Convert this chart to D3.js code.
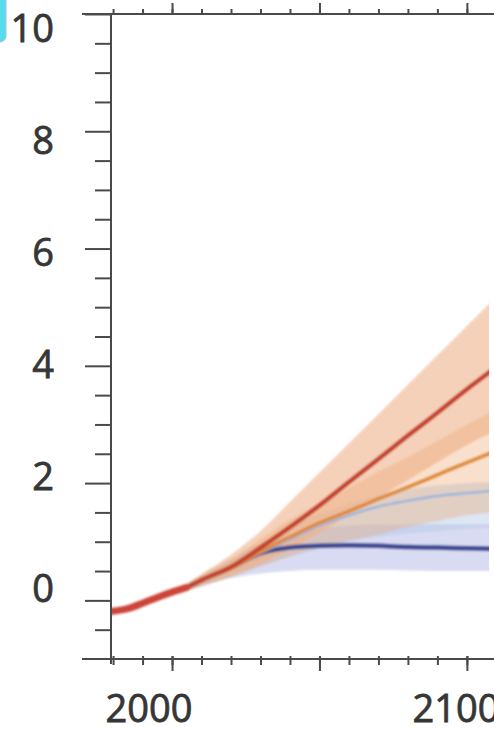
<!DOCTYPE html>
<html lang="en">
<head>
<meta charset="UTF-8">
<title>Temperature projections</title>
<script src="https://cdn.jsdelivr.net/npm/d3@7"></script>
<style>
    body { margin: 0; background: #fff; }
    svg { display: block; }
    .lbl { font-family: "Open Sans", sans-serif; font-size: 38px; fill: #363636; stroke: #363636; stroke-width: 0.8; }
    .axis path, .axis line { stroke: #4a4a4a; stroke-width: 2; }
</style>
</head>
<body>
<div id="chart"></div>
<script>
    // historical run
    var histYears = [1979, 1985, 1990, 1995, 2000, 2005];
    var histMean  = [-0.19, -0.14, -0.05, 0.05, 0.14, 0.22];

    // scenario runs
    var projYears = [2005, 2010, 2020, 2030, 2040, 2050, 2060, 2070, 2080, 2090, 2100, 2110];

    var rcp85Mean = [0.22, 0.35, 0.57, 0.90, 1.25, 1.62, 2.02, 2.41, 2.81, 3.20, 3.60, 3.98];
    var rcp85Low  = [0.16, 0.25, 0.42, 0.62, 0.88, 1.15, 1.45, 1.75, 2.05, 2.35, 2.65, 2.90];
    var rcp85High = [0.28, 0.45, 0.78, 1.18, 1.68, 2.18, 2.68, 3.18, 3.68, 4.18, 4.68, 5.18];

    var rcp60Mean = [0.22, 0.34, 0.55, 0.83, 1.08, 1.32, 1.52, 1.73, 1.93, 2.14, 2.35, 2.55];
    var rcp60Low  = [0.16, 0.24, 0.40, 0.58, 0.75, 0.90, 1.02, 1.12, 1.25, 1.35, 1.45, 1.50];
    var rcp60High = [0.28, 0.44, 0.70, 1.05, 1.38, 1.65, 1.92, 2.20, 2.45, 2.72, 3.00, 3.25];

    var rcp45Mean = [0.22, 0.33, 0.55, 0.81, 1.04, 1.27, 1.45, 1.60, 1.70, 1.78, 1.83, 1.87];
    var rcp45Low  = [0.16, 0.24, 0.40, 0.58, 0.75, 0.88, 1.00, 1.08, 1.14, 1.18, 1.22, 1.24];
    var rcp45High = [0.28, 0.42, 0.68, 0.98, 1.25, 1.48, 1.65, 1.80, 1.90, 1.96, 2.00, 2.02];

    var rcp26Mean = [0.22, 0.34, 0.56, 0.80, 0.90, 0.93, 0.94, 0.93, 0.91, 0.90, 0.89, 0.88];
    var rcp26Low  = [0.16, 0.24, 0.38, 0.46, 0.50, 0.52, 0.52, 0.52, 0.51, 0.50, 0.50, 0.50];
    var rcp26High = [0.28, 0.42, 0.70, 0.98, 1.12, 1.22, 1.28, 1.30, 1.30, 1.30, 1.30, 1.30];

    var yLabels = [0, 2, 4, 6, 8, 10];
    var xLabels = [2000, 2100];

    var W = 494, H = 733;
    var plot = {left: 111, right: 489, top: 14, bottom: 659};

    var x = d3.scaleLinear().domain([1979.3, 2107.5]).range([plot.left, plot.right]);
    var y = d3.scaleLinear().domain([-1, 10]).range([plot.bottom, plot.top]);
    // the printed numbers sit a little off their ticks in the source figure
    var yText = d3.scaleLinear().domain([0, 10]).range([589, 29]);
    var xText = d3.scaleLinear().domain([2000, 2100]).range([149, 456]);

    var svg = d3.select("#chart").append("svg")
        .attr("width", W).attr("height", H);

    var defs = svg.append("defs");
    defs.append("clipPath").attr("id", "clip").append("rect")
        .attr("x", plot.left).attr("y", plot.top)
        .attr("width", plot.right - plot.left).attr("height", plot.bottom - plot.top);
    defs.append("filter").attr("id", "soft")
        .append("feGaussianBlur").attr("stdDeviation", 1.2);

    // little cyan corner of a neighbouring panel
    svg.append("rect").attr("x", -8).attr("y", -8).attr("width", 14).attr("height", 50)
        .attr("rx", 6).attr("fill", "#56dcec").attr("stroke", "#9cc6d8");

    function rows(years, a, b, c) {
        return years.map(function (yr, i) { return {yr: yr, m: a[i], lo: b ? b[i] : null, hi: c ? c[i] : null}; });
    }

    var area = d3.area().curve(d3.curveMonotoneX)
        .x(function (d) { return x(d.yr); })
        .y0(function (d) { return y(d.lo); })
        .y1(function (d) { return y(d.hi); });
    var line = d3.line().curve(d3.curveMonotoneX)
        .x(function (d) { return x(d.yr); })
        .y(function (d) { return y(d.m); });

    var scen = [
        {name: "RCP2.6", d: rows(projYears, rcp26Mean, rcp26Low, rcp26High), band: "#b4b7e6", bo: 0.5, col: "#3a4690", w: 4.5},
        {name: "RCP4.5", d: rows(projYears, rcp45Mean, rcp45Low, rcp45High), band: "#b2c8e6", bo: 0.45, col: "#9ab6da", w: 2.5},
        {name: "RCP8.5", d: rows(projYears, rcp85Mean, rcp85Low, rcp85High), band: "#f0b995", bo: 0.65, col: "#c4402e", w: 4.5},
        {name: "RCP6.0", d: rows(projYears, rcp60Mean, rcp60Low, rcp60High), band: "#eea66c", bo: 0.35, col: "#e0883a", w: 3.5}
    ];
    var lineOrder = ["RCP2.6", "RCP4.5", "RCP6.0", "RCP8.5"];

    var g = svg.append("g").attr("clip-path", "url(#clip)")
        .append("g").attr("filter", "url(#soft)");

    scen.forEach(function (s) {
        g.append("path").datum(s.d).attr("d", area)
            .attr("fill", s.band).attr("fill-opacity", s.bo);
    });

    lineOrder.forEach(function (n) {
        var s = scen.filter(function (c) { return c.name === n; })[0];
        g.append("path").datum(s.d).attr("d", line)
            .attr("fill", "none").attr("stroke", s.col)
            .attr("stroke-width", s.w).attr("stroke-linecap", "round");
    });

    g.append("path").datum(rows(histYears, histMean)).attr("d", line)
        .attr("fill", "none").attr("stroke", "#cc4538")
        .attr("stroke-width", 7).attr("stroke-linecap", "round");

    // y ticks
    var minorY = d3.range(-0.5, 10, 0.5).filter(function (v) { return v % 2 !== 0; });
    svg.append("g").attr("class", "axis").attr("transform", "translate(" + plot.left + ",0)")
        .call(d3.axisLeft(y).tickValues(minorY).tickSize(16).tickFormat(""))
        .call(function (a) { a.select(".domain").remove(); });
    svg.append("g").attr("class", "axis").attr("transform", "translate(" + plot.left + ",0)")
        .call(d3.axisLeft(y).tickValues(yLabels).tickSize(26).tickFormat(""))
        .call(function (a) { a.select(".domain").remove(); });

    svg.append("g").selectAll("text").data(yLabels).enter().append("text")
        .attr("class", "lbl").attr("text-anchor", "end")
        .attr("x", 54).attr("y", function (d) { return yText(d); }).attr("dy", "0.35em")
        .text(function (d) { return d; });

    var decades = d3.range(1980, 2110, 10);
    var halfCent = [2000, 2050, 2100];

    // bottom ticks
    svg.append("g").attr("class", "axis").attr("transform", "translate(0," + plot.bottom + ")")
        .call(d3.axisBottom(x).tickValues(decades).tickSize(6).tickFormat(""))
        .call(function (a) { a.select(".domain").remove(); a.selectAll(".tick line").attr("y1", -3); });
    svg.append("g").attr("class", "axis").attr("transform", "translate(0," + plot.bottom + ")")
        .call(d3.axisBottom(x).tickValues(halfCent).tickSize(12).tickFormat(""))
        .call(function (a) { a.select(".domain").remove(); a.selectAll(".tick line").attr("y1", -3); });

    svg.append("g").selectAll("text").data(xLabels).enter().append("text")
        .attr("class", "lbl").attr("text-anchor", "middle")
        .attr("x", function (d) { return xText(d); })
        .attr("y", plot.bottom + 63)
        .text(function (d) { return d; });

    // top ticks
    svg.append("g").attr("class", "axis").attr("transform", "translate(0," + plot.top + ")")
        .call(d3.axisTop(x).tickValues(decades).tickSize(5).tickFormat(""))
        .call(function (a) { a.select(".domain").remove(); a.selectAll(".tick line").attr("y1", 1); });
    svg.append("g").attr("class", "axis").attr("transform", "translate(0," + plot.top + ")")
        .call(d3.axisTop(x).tickValues(halfCent).tickSize(11).tickFormat(""))
        .call(function (a) { a.select(".domain").remove(); a.selectAll(".tick line").attr("y1", 1); });

    // frame lines
    var frame = svg.append("g").attr("stroke", "#4a4a4a").attr("stroke-width", 2);
    frame.append("line").attr("x1", 82).attr("x2", W).attr("y1", plot.top).attr("y2", plot.top);
    frame.append("line").attr("x1", 82).attr("x2", W).attr("y1", plot.bottom).attr("y2", plot.bottom);
    frame.append("line").attr("x1", plot.left).attr("x2", plot.left).attr("y1", plot.top).attr("y2", plot.bottom + 5);
</script>
</body>
</html>
